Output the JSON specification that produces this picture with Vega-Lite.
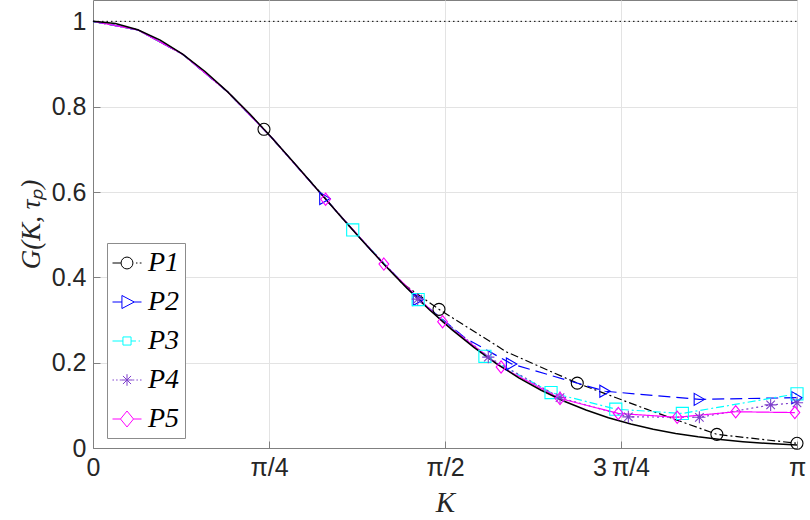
{
  "$schema": "https://vega.github.io/schema/vega-lite/v6.json",
  "width": 704,
  "height": 448,
  "autosize": "none",
  "padding": {"left": 93, "top": 0, "right": 13, "bottom": 72},
  "background": "white",
  "datasets": {
    "unity": [
      {"K": 0, "G": 1},
      {"K": 3.1416, "G": 1}
    ],
    "exact": [
      {"K": 0.0, "G": 1.0},
      {"K": 0.1, "G": 0.995},
      {"K": 0.2, "G": 0.9802},
      {"K": 0.3, "G": 0.956},
      {"K": 0.4, "G": 0.9231},
      {"K": 0.5, "G": 0.8825},
      {"K": 0.6, "G": 0.8353},
      {"K": 0.7, "G": 0.7827},
      {"K": 0.8, "G": 0.7261},
      {"K": 0.9, "G": 0.667},
      {"K": 1.0, "G": 0.6065},
      {"K": 1.1, "G": 0.5461},
      {"K": 1.2, "G": 0.4868},
      {"K": 1.3, "G": 0.4296},
      {"K": 1.4, "G": 0.3753},
      {"K": 1.5, "G": 0.3247},
      {"K": 1.6, "G": 0.278},
      {"K": 1.7, "G": 0.2357},
      {"K": 1.8, "G": 0.1979},
      {"K": 1.9, "G": 0.1645},
      {"K": 2.0, "G": 0.1353},
      {"K": 2.1, "G": 0.1103},
      {"K": 2.2, "G": 0.0889},
      {"K": 2.3, "G": 0.071},
      {"K": 2.4, "G": 0.0561},
      {"K": 2.5, "G": 0.0439},
      {"K": 2.6, "G": 0.034},
      {"K": 2.7, "G": 0.0261},
      {"K": 2.8, "G": 0.0198},
      {"K": 2.9, "G": 0.0149},
      {"K": 3.0, "G": 0.0111},
      {"K": 3.1, "G": 0.0082},
      {"K": 3.1416, "G": 0.0072}
    ],
    "lines": [
      {"series": "P1", "K": 0, "G": 1},
      {"series": "P1", "K": 0.2, "G": 0.98},
      {"series": "P1", "K": 0.4, "G": 0.923},
      {"series": "P1", "K": 0.6, "G": 0.835},
      {"series": "P1", "K": 0.763, "G": 0.747},
      {"series": "P1", "K": 1.0, "G": 0.607},
      {"series": "P1", "K": 1.2, "G": 0.487},
      {"series": "P1", "K": 1.38, "G": 0.386},
      {"series": "P1", "K": 1.544, "G": 0.325},
      {"series": "P1", "K": 1.846, "G": 0.225},
      {"series": "P1", "K": 2.161, "G": 0.152},
      {"series": "P1", "K": 2.47, "G": 0.091},
      {"series": "P1", "K": 2.784, "G": 0.032},
      {"series": "P1", "K": 3.1416, "G": 0.011},
      {"series": "P2", "K": 0, "G": 1},
      {"series": "P2", "K": 0.2, "G": 0.98},
      {"series": "P2", "K": 0.4, "G": 0.923},
      {"series": "P2", "K": 0.6, "G": 0.835},
      {"series": "P2", "K": 0.8, "G": 0.726},
      {"series": "P2", "K": 1.035, "G": 0.585},
      {"series": "P2", "K": 1.25, "G": 0.458},
      {"series": "P2", "K": 1.452, "G": 0.348},
      {"series": "P2", "K": 1.66, "G": 0.258},
      {"series": "P2", "K": 1.868, "G": 0.197},
      {"series": "P2", "K": 2.285, "G": 0.133},
      {"series": "P2", "K": 2.706, "G": 0.114},
      {"series": "P2", "K": 3.1416, "G": 0.118},
      {"series": "P3", "K": 0, "G": 1},
      {"series": "P3", "K": 0.2, "G": 0.98},
      {"series": "P3", "K": 0.4, "G": 0.923},
      {"series": "P3", "K": 0.6, "G": 0.835},
      {"series": "P3", "K": 0.8, "G": 0.726},
      {"series": "P3", "K": 1.159, "G": 0.511},
      {"series": "P3", "K": 1.451, "G": 0.348},
      {"series": "P3", "K": 1.749, "G": 0.215},
      {"series": "P3", "K": 2.044, "G": 0.13},
      {"series": "P3", "K": 2.333, "G": 0.091},
      {"series": "P3", "K": 2.63, "G": 0.081},
      {"series": "P3", "K": 3.1416, "G": 0.127},
      {"series": "P4", "K": 0, "G": 1},
      {"series": "P4", "K": 0.2, "G": 0.98},
      {"series": "P4", "K": 0.4, "G": 0.923},
      {"series": "P4", "K": 0.6, "G": 0.835},
      {"series": "P4", "K": 0.8, "G": 0.726},
      {"series": "P4", "K": 1.15, "G": 0.516},
      {"series": "P4", "K": 1.449, "G": 0.349},
      {"series": "P4", "K": 1.764, "G": 0.213},
      {"series": "P4", "K": 2.084, "G": 0.118},
      {"series": "P4", "K": 2.389, "G": 0.073},
      {"series": "P4", "K": 2.706, "G": 0.072},
      {"series": "P4", "K": 3.024, "G": 0.101},
      {"series": "P4", "K": 3.1416, "G": 0.106},
      {"series": "P5", "K": 0, "G": 1},
      {"series": "P5", "K": 0.2, "G": 0.98},
      {"series": "P5", "K": 0.4, "G": 0.923},
      {"series": "P5", "K": 0.6, "G": 0.835},
      {"series": "P5", "K": 0.8, "G": 0.726},
      {"series": "P5", "K": 1.038, "G": 0.583},
      {"series": "P5", "K": 1.298, "G": 0.431},
      {"series": "P5", "K": 1.56, "G": 0.296},
      {"series": "P5", "K": 1.821, "G": 0.19},
      {"series": "P5", "K": 2.084, "G": 0.116},
      {"series": "P5", "K": 2.344, "G": 0.081},
      {"series": "P5", "K": 2.607, "G": 0.072},
      {"series": "P5", "K": 2.868, "G": 0.085},
      {"series": "P5", "K": 3.132, "G": 0.083}
    ],
    "markers": [
      {"series": "P1", "K": 0.763, "G": 0.747},
      {"series": "P1", "K": 1.544, "G": 0.325},
      {"series": "P1", "K": 2.161, "G": 0.152},
      {"series": "P1", "K": 2.784, "G": 0.032},
      {"series": "P1", "K": 3.1416, "G": 0.011},
      {"series": "P2", "K": 1.035, "G": 0.585},
      {"series": "P2", "K": 1.452, "G": 0.348},
      {"series": "P2", "K": 1.868, "G": 0.197},
      {"series": "P2", "K": 2.285, "G": 0.133},
      {"series": "P2", "K": 2.706, "G": 0.114},
      {"series": "P2", "K": 3.1416, "G": 0.118},
      {"series": "P3", "K": 1.159, "G": 0.511},
      {"series": "P3", "K": 1.451, "G": 0.348},
      {"series": "P3", "K": 1.749, "G": 0.215},
      {"series": "P3", "K": 2.044, "G": 0.13},
      {"series": "P3", "K": 2.333, "G": 0.091},
      {"series": "P3", "K": 2.63, "G": 0.081},
      {"series": "P3", "K": 3.1416, "G": 0.127},
      {"series": "P4", "K": 1.449, "G": 0.349},
      {"series": "P4", "K": 1.764, "G": 0.213},
      {"series": "P4", "K": 2.084, "G": 0.118},
      {"series": "P4", "K": 2.389, "G": 0.073},
      {"series": "P4", "K": 2.706, "G": 0.072},
      {"series": "P4", "K": 3.024, "G": 0.101},
      {"series": "P4", "K": 3.1416, "G": 0.106},
      {"series": "P5", "K": 1.038, "G": 0.583},
      {"series": "P5", "K": 1.298, "G": 0.431},
      {"series": "P5", "K": 1.56, "G": 0.296},
      {"series": "P5", "K": 1.821, "G": 0.19},
      {"series": "P5", "K": 2.084, "G": 0.116},
      {"series": "P5", "K": 2.344, "G": 0.081},
      {"series": "P5", "K": 2.607, "G": 0.072},
      {"series": "P5", "K": 2.868, "G": 0.085},
      {"series": "P5", "K": 3.132, "G": 0.083}
    ]
  },
  "encoding": {
    "x": {
      "field": "K",
      "type": "quantitative",
      "scale": {"domain": [0, 3.1415927], "nice": false, "zero": false},
      "axis": {
        "title": "K",
        "values": [0, 0.7853982, 1.5707963, 2.3561945, 3.1415927],
        "labelExpr": "['0', 'π/4', 'π/2', '3\u2009π/4', 'π'][round(datum.value / (PI / 4))]",
        "titleFont": "Liberation Serif",
        "titleFontStyle": "italic",
        "titleFontWeight": "normal",
        "titleFontSize": 29,
        "titlePadding": 8,
        "labelPadding": 14
      }
    },
    "y": {
      "field": "G",
      "type": "quantitative",
      "scale": {"domain": [0, 1.05], "nice": false, "zero": false},
      "axis": {
        "title": "G(K, τₚ)",
        "values": [0, 0.2, 0.4, 0.6, 0.8, 1],
        "format": "~g",
        "titleFont": "Liberation Serif",
        "titleFontStyle": "italic",
        "titleFontWeight": "normal",
        "titleFontSize": 27,
        "titlePadding": 6,
        "labelPadding": 14
      }
    }
  },
  "layer": [
    {
      "data": {"name": "unity"},
      "mark": {"type": "line", "color": "black", "strokeWidth": 1, "strokeDash": [1.5, 3]}
    },
    {
      "data": {"name": "lines"},
      "mark": {"type": "line", "strokeWidth": 1.2},
      "encoding": {
        "color": {
          "field": "series",
          "type": "nominal",
          "scale": {"domain": ["P1", "P2", "P3", "P4", "P5"], "range": ["#000000", "#0000ff", "#00ffff", "#7e3fcc", "#ff00ff"]},
          "legend": null
        },
        "strokeDash": {
          "field": "series",
          "type": "nominal",
          "scale": {"domain": ["P1", "P2", "P3", "P4", "P5"], "range": [[8, 3, 2, 3], [12, 6], [8, 3, 2, 3], [2, 3], [1, 0]]},
          "legend": null
        }
      }
    },
    {
      "data": {"name": "exact"},
      "mark": {"type": "line", "color": "black", "strokeWidth": 1.5}
    },
    {
      "data": {"name": "markers"},
      "mark": {"type": "point", "filled": false, "strokeWidth": 1.1, "opacity": 1},
      "encoding": {
        "color": {
          "field": "series",
          "type": "nominal",
          "scale": {"domain": ["P1", "P2", "P3", "P4", "P5"], "range": ["#000000", "#0000ff", "#00ffff", "#7e3fcc", "#ff00ff"]},
          "legend": null
        },
        "shape": {
          "field": "series",
          "type": "nominal",
          "scale": {"domain": ["P1", "P2", "P3", "P4", "P5"], "range": ["circle", "triangle-right", "square", "M0,-1V1M-1,0H1M-0.7,-0.7L0.7,0.7M-0.7,0.7L0.7,-0.7", "M0,-1L0.8,0L0,1L-0.8,0Z"]},
          "legend": null
        },
        "size": {
          "field": "series",
          "type": "nominal",
          "scale": {"domain": ["P1", "P2", "P3", "P4", "P5"], "range": [144, 150, 81, 110, 225]},
          "legend": null
        }
      }
    },
    {
      "data": {"name": "markers"},
      "transform": [{"filter": "false"}],
      "mark": {"type": "point", "filled": false, "opacity": 1},
      "encoding": {
        "color": {
          "field": "series",
          "type": "nominal",
          "scale": {"domain": ["P1", "P2", "P3", "P4", "P5"], "range": ["#000000", "#0000ff", "#00ffff", "#7e3fcc", "#ff00ff"]},
          "legend": {
            "title": null,
            "orient": "none",
            "legendX": 14,
            "legendY": 243,
            "symbolSize": 841,
            "symbolStrokeWidth": 1,
            "labelFont": "Liberation Serif",
            "labelFontStyle": "italic",
            "labelFontWeight": "normal",
            "labelFontSize": 28,
            "labelColor": "black",
            "labelOffset": 6,
            "rowPadding": 10,
            "padding": 5,
            "strokeColor": "#8c8c8c",
            "fillColor": "white"
          }
        },
        "shape": {
          "field": "series",
          "type": "nominal",
          "scale": {"domain": ["P1", "P2", "P3", "P4", "P5"], "range": [
            "M-1,0H-0.42M0.62,0H0.72M0.88,0H1M0.41,0A0.41,0.41 0 1 1 -0.41,0A0.41,0.41 0 1 1 0.41,0Z",
            "M-1,0H-0.35M0.5,0H1M-0.35,-0.45L0.5,0L-0.35,0.45Z",
            "M-1,0H-0.28M0.28,0H0.62M0.8,0H0.9M-0.28,-0.28H0.28V0.28H-0.28Z",
            "M-1,0H-0.9M-0.75,0H-0.65M-0.5,0H-0.42M0.42,0H0.5M0.65,0H0.75M0.9,0H1M0,-0.4V0.4M-0.4,0H0.4M-0.28,-0.28L0.28,0.28M-0.28,0.28L0.28,-0.28",
            "M-1,0H-0.45M0.45,0H1M0,-0.55L0.45,0L0,0.55L-0.45,0Z"
          ]},
          "legend": {
            "title": null,
            "orient": "none",
            "legendX": 14,
            "legendY": 243,
            "symbolSize": 841,
            "symbolStrokeWidth": 1,
            "labelFont": "Liberation Serif",
            "labelFontStyle": "italic",
            "labelFontWeight": "normal",
            "labelFontSize": 28,
            "labelColor": "black",
            "labelOffset": 6,
            "rowPadding": 10,
            "padding": 5,
            "strokeColor": "#8c8c8c",
            "fillColor": "white"
          }
        }
      }
    }
  ],
  "resolve": {"scale": {"color": "independent", "shape": "independent"}},
  "config": {
    "view": {"stroke": "#808080", "strokeWidth": 1},
    "axis": {
      "labelFont": "Liberation Sans",
      "labelFontSize": 25,
      "labelColor": "#262626",
      "domainColor": "#808080",
      "tickColor": "#808080",
      "tickSize": -7,
      "gridColor": "#e3e3e3",
      "gridOpacity": 1,
      "titleColor": "#262626",
      "labelOverlap": false,
      "labelFlush": false
    }
  }
}
